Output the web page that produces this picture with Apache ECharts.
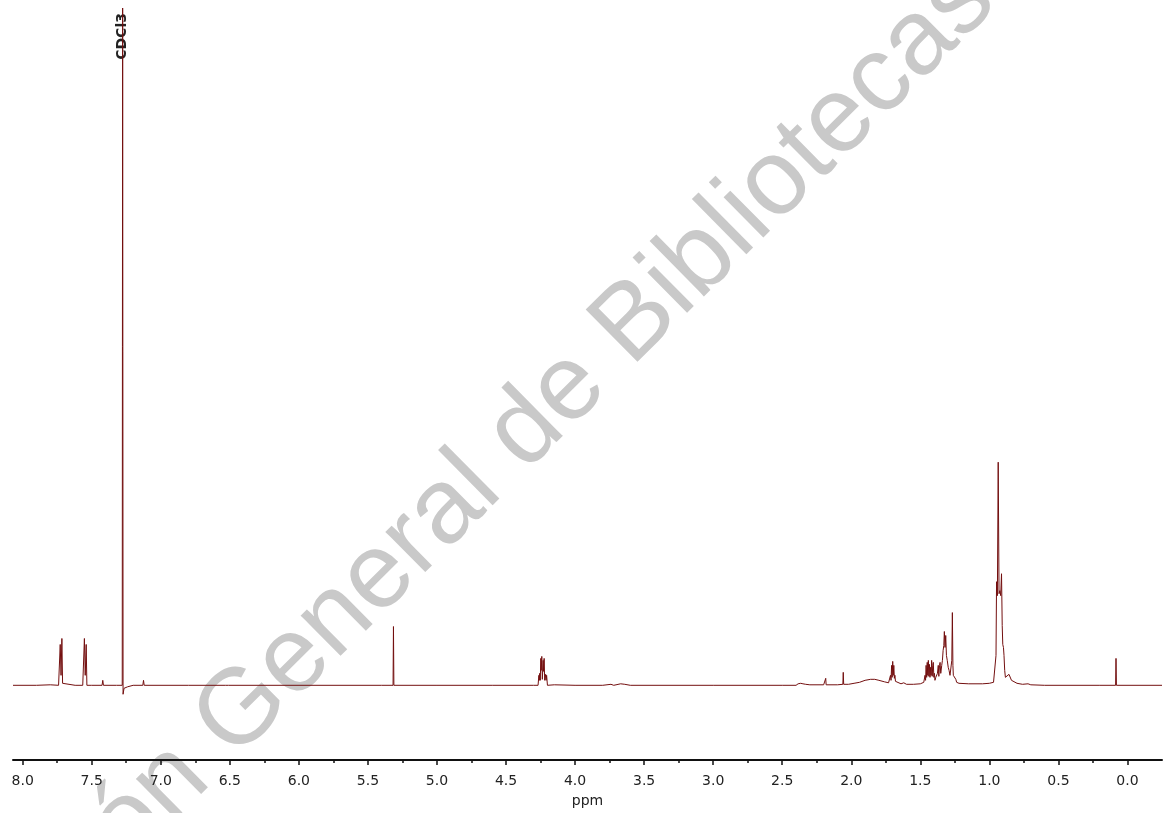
<!DOCTYPE html>
<html>
<head>
<meta charset="utf-8">
<title>1H NMR (CDCl3)</title>
<script src="https://cdn.jsdelivr.net/npm/echarts@6/dist/echarts.min.js"></script>
<style>
  html, body { margin: 0; padding: 0; background: #ffffff; }
  #chart { width: 1165px; height: 813px; }
</style>
</head>
<body>
<div id="chart"></div>
<script>
// Chemical shift axis (ppm), drawn high -> low
const axisMin = -0.25;
const axisMax = 8.07;
const majorTicks = [0, 0.5, 1, 1.5, 2, 2.5, 3, 3.5, 4, 4.5, 5, 5.5, 6, 6.5, 7, 7.5, 8];
const minorTicks = [0.25, 0.75, 1.25, 1.75, 2.25, 2.75, 3.25, 3.75, 4.25, 4.75, 5.25, 5.75, 6.25, 6.75, 7.25, 7.75];

// Spectrum trace: [ppm, intensity], intensity in arbitrary units (baseline = 0)
const aromaticTrace = [
  [8.07, 0], [7.90, 0], [7.80, 0.5], [7.74, 0],
  [7.733, 0], [7.728, 41], [7.722, 10], [7.716, 47], [7.711, 2], [7.70, 0],
  [7.62, 0], [7.565, 0], [7.559, 2], [7.553, 47], [7.547, 10], [7.540, 41], [7.535, 0], [7.50, 0],
  [7.425, 0], [7.420, 5], [7.415, 0],
  [7.32, 0], [7.279, 0], [7.276, 680], [7.273, -9], [7.266, -3], [7.24, -1.5], [7.20, 0],
  [7.13, 0], [7.125, 5], [7.12, 0],
  [6.80, 0], [6.53, 0], [6.52, 1], [6.51, 0]
];

const solventAndEsterTrace = [
  [5.40, 0], [5.318, 0], [5.315, 59], [5.312, 0], [5.00, 0], [4.60, 0], [4.30, 0],
  [4.268, 0], [4.262, 10], [4.259, 5], [4.256, 12], [4.252, 5],
  [4.248, 27], [4.245, 15], [4.241, 29], [4.237, 6],
  [4.231, 25], [4.228, 14], [4.224, 27], [4.220, 5],
  [4.213, 11], [4.210, 5], [4.206, 10], [4.200, 0],
  [4.15, 0.5], [4.00, 0], [3.80, 0], [3.74, 1], [3.72, 0], [3.67, 1.5], [3.64, 1], [3.60, 0],
  [3.00, 0], [2.50, 0]
];

const aliphaticTrace = [
  [2.40, 0], [2.385, 1.5], [2.372, 3], [2.366, 2], [2.360, 3], [2.350, 1.5], [2.33, 1], [2.30, 0.5], [2.20, 0.5],
  [2.188, 0.5], [2.185, 7], [2.182, 0.5],
  [2.10, 0.5], [2.061, 1], [2.058, 13], [2.055, 1],
  [2.02, 1], [1.98, 2], [1.94, 3], [1.90, 5], [1.86, 6], [1.83, 6], [1.80, 5], [1.76, 3.5], [1.73, 2.5],
  [1.720, 3], [1.716, 10], [1.712, 5], [1.708, 20], [1.704, 8], [1.700, 24], [1.696, 10], [1.692, 20],
  [1.688, 7], [1.684, 10], [1.680, 4], [1.676, 5], [1.670, 2],
  [1.64, 1.5], [1.62, 2.5], [1.60, 1], [1.55, 1], [1.50, 1.5], [1.475, 3],
  [1.466, 10], [1.462, 5], [1.458, 20], [1.454, 8], [1.450, 23], [1.446, 10], [1.442, 25], [1.438, 9],
  [1.434, 21], [1.430, 8], [1.426, 18], [1.422, 10], [1.418, 25], [1.414, 9], [1.410, 20], [1.406, 23],
  [1.402, 8], [1.398, 12], [1.394, 5],
  [1.388, 8], [1.382, 6], [1.376, 12], [1.370, 20], [1.366, 9], [1.361, 20], [1.357, 23], [1.352, 12],
  [1.348, 14], [1.345, 20], [1.340, 25], [1.335, 35], [1.330, 40], [1.326, 54], [1.321, 38], [1.316, 50],
  [1.311, 30], [1.305, 25], [1.298, 18], [1.292, 15], [1.285, 10], [1.278, 12], [1.272, 25], [1.268, 73],
  [1.264, 20], [1.261, 10], [1.255, 9], [1.249, 11], [1.243, 6], [1.237, 3], [1.22, 2],
  [1.15, 1.5], [1.05, 1.5], [1.00, 2], [0.97, 3],
  [0.958, 4], [0.952, 30], [0.948, 104], [0.942, 90], [0.936, 224], [0.930, 92], [0.924, 95], [0.918, 90],
  [0.912, 112], [0.907, 60], [0.903, 41], [0.898, 38], [0.894, 30], [0.889, 15], [0.884, 8],
  [0.870, 9], [0.858, 11], [0.850, 10], [0.840, 5], [0.828, 3], [0.80, 2], [0.76, 1], [0.72, 1.5], [0.70, 0.5],
  [0.60, 0], [0.20, 0],
  [0.086, 0], [0.083, 27], [0.080, 0], [-0.25, 0]
];

const solventName = 'CDCl3';
const solventPeak = [7.276, 628];

const spectrum = aromaticTrace.concat(solventAndEsterTrace, aliphaticTrace);

const fontFamily = '"DejaVu Sans", Verdana, sans-serif';
const lineColor = '#730f0f';

const chart = echarts.init(document.getElementById('chart'), null, { renderer: 'canvas' });

chart.setOption({
  animation: false,
  backgroundColor: '#ffffff',
  grid: { left: 13, right: 3, top: 8, bottom: 50 },
  graphic: [
    {
      type: 'text',
      z: -10,
      silent: true,
      x: -125,
      y: 1075,
      rotation: 44.7 * Math.PI / 180,
      style: {
        text: 'Dirección General de Bibliotecas',
        font: '107px "Liberation Sans", Arial, sans-serif',
        fill: '#c9c9c9',
        align: 'left',
        verticalAlign: 'middle'
      }
    }
  ],
  xAxis: [
    {
      type: 'value',
      min: axisMin,
      max: axisMax,
      inverse: true,
      position: 'bottom',
      offset: 0,
      name: 'ppm',
      nameLocation: 'middle',
      nameGap: 34,
      nameTextStyle: { fontFamily: fontFamily, fontSize: 14, color: '#222' },
      axisLine: { show: true, onZero: false, lineStyle: { color: '#111', width: 2 } },
      axisTick: { show: true, customValues: majorTicks, length: 5, lineStyle: { color: '#111', width: 1.5 } },
      axisLabel: {
        customValues: majorTicks,
        formatter: function (v) { return v.toFixed(1); },
        fontFamily: fontFamily,
        fontSize: 14,
        color: '#222',
        margin: 14
      },
      splitLine: { show: false }
    },
    {
      type: 'value',
      min: axisMin,
      max: axisMax,
      inverse: true,
      position: 'bottom',
      offset: 0,
      axisLine: { show: false, onZero: false },
      axisTick: { show: true, customValues: minorTicks, length: 3, lineStyle: { color: '#111', width: 1.5 } },
      axisLabel: { show: false },
      splitLine: { show: false }
    }
  ],
  yAxis: {
    type: 'value',
    min: -75,
    max: 680,
    show: false,
    splitLine: { show: false }
  },
  series: [
    {
      type: 'line',
      xAxisIndex: 0,
      data: spectrum,
      showSymbol: false,
      symbol: 'none',
      sampling: null,
      z: 5,
      lineStyle: { color: lineColor, width: 1 },
      markPoint: {
        symbol: 'circle',
        symbolSize: 1,
        itemStyle: { color: 'rgba(0,0,0,0)' },
        label: {
          show: true,
          formatter: solventName,
          position: 'inside',
          rotate: 90,
          align: 'left',
          verticalAlign: 'middle',
          fontFamily: fontFamily,
          fontWeight: 'bold',
          fontSize: 14,
          color: '#222'
        },
        data: [{ coord: solventPeak }]
      }
    }
  ]
});
</script>
</body>
</html>
